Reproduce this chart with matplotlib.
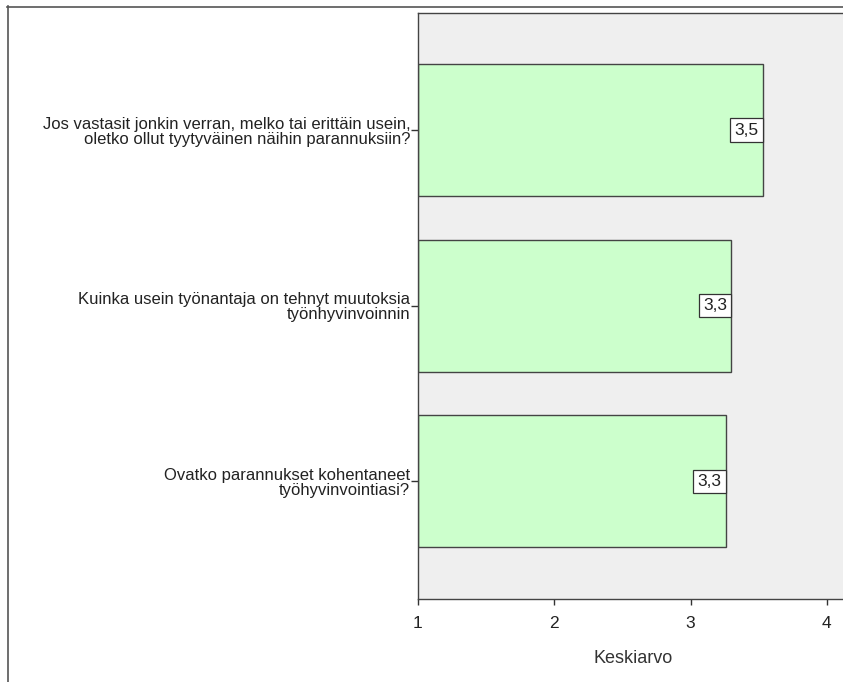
import matplotlib
matplotlib.use("Agg")
import matplotlib.pyplot as plt
from matplotlib.lines import Line2D

plt.rcParams['font.family'] = ['Liberation Sans', 'DejaVu Sans']

questions = [
    "Jos vastasit jonkin verran, melko tai erittäin usein,\noletko ollut tyytyväinen näihin parannuksiin?",
    "Kuinka usein työnantaja on tehnyt muutoksia\ntyönhyvinvoinnin",
    "Ovatko parannukset kohentaneet\ntyöhyvinvointiasi?",
]
means = [3.53, 3.30, 3.26]
x_ticks = [1, 2, 3, 4]
x_label = "Keskiarvo"

W, H = 843, 682
fig = plt.figure(figsize=(W / 100, H / 100), dpi=100)
fig.patch.set_facecolor('white')

# outer chart frame (continues past the right and bottom edges)
fig.add_artist(Line2D([7.5 / W, 7.5 / W], [1 - 6 / H, 0], transform=fig.transFigure,
                      color='#555555', lw=1.2))
fig.add_artist(Line2D([7 / W, 1], [1 - 6.5 / H, 1 - 6.5 / H], transform=fig.transFigure,
                      color='#555555', lw=1.2))

px_per_unit = 136.3
x_left, x_right = 1, 4.16
ax_left = 418
ax_top, ax_bottom = 12.5, 599
ax_width = (x_right - x_left) * px_per_unit
ax = fig.add_axes([ax_left / W, 1 - ax_bottom / H, ax_width / W, (ax_bottom - ax_top) / H])
ax.set_facecolor('#EFEFEF')

y = list(range(len(questions)))
ax.barh(y, [m - x_left for m in means], left=x_left, height=0.75,
        color='#CCFFCC', edgecolor='#444444', linewidth=1.0, zorder=2)

for yi, m in zip(y, means):
    ax.annotate(f"{m:.1f}".replace('.', ','), xy=(m, yi), xytext=(-3.2, 0),
                textcoords='offset points', ha='right', va='center', fontsize=12.5,
                color='#222222', zorder=3,
                bbox=dict(boxstyle='square,pad=0.24', fc='white', ec='#333333', lw=0.9))

ax.set_xlim(x_left, x_right)
ax.set_ylim(2.67, -0.67)
ax.set_xticks(x_ticks)
ax.set_xticklabels([str(t) for t in x_ticks], fontsize=12.5, color='#222222')
ax.set_yticks(y)
ax.set_yticklabels(questions, fontsize=12, color='#222222')
for t in ax.get_yticklabels():
    t.set_linespacing(1.0)
ax.tick_params(axis='y', length=5, width=1, color='#333333', pad=0.5)
ax.tick_params(axis='x', length=4, width=1, color='#333333', pad=8)
ax.set_xlabel(x_label, fontsize=13, color='#333333', labelpad=14)

for s in ax.spines.values():
    s.set_color('#444444')
    s.set_linewidth(1.0)

fig.savefig('out.png', dpi=100, facecolor='white')
